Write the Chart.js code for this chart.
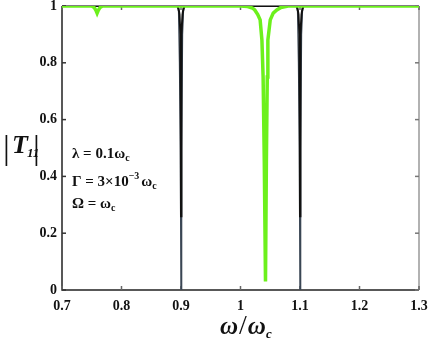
<!DOCTYPE html>
<html>
<head>
<meta charset="utf-8">
<script src="https://cdn.jsdelivr.net/npm/chart.js@4/dist/chart.umd.min.js"></script>
<style>
html, body { margin: 0; padding: 0; background: #fff; }
#wrap { width: 435px; height: 345px; }
</style>
</head>
<body>
<div id="wrap"><canvas id="myChart"></canvas></div>
<script>
// frequency axis ticks
var xTicks = [0.7, 0.8, 0.9, 1.0, 1.1, 1.2, 1.3];
var xTickLabels = ['0.7', '0.8', '0.9', '1', '1.1', '1.2', '1.3'];
var yTicks = [0, 0.2, 0.4, 0.6, 0.8, 1];
var yTickLabels = ['0', '0.2', '0.4', '0.6', '0.8', '1'];

// thick black curve
var blackW = [0.7, 0.894, 0.896, 0.8975, 0.899, 0.8996, 0.9, 0.9004, 0.901, 0.9025, 0.904, 0.906,
              1.094, 1.096, 1.0975, 1.099, 1.0996, 1.1, 1.1004, 1.101, 1.1025, 1.104, 1.106, 1.3];
var blackT = [1, 1, 0.99, 0.97, 0.9, 0.6, 0.26, 0.6, 0.9, 0.97, 0.99, 1,
              1, 0.99, 0.97, 0.9, 0.6, 0.26, 0.6, 0.9, 0.97, 0.99, 1, 1];

// thin slate curve, goes all the way down
var slateW = [0.7, 0.894, 0.896, 0.8975, 0.899, 0.9, 0.901, 0.9025, 0.904, 0.906,
              1.094, 1.096, 1.0975, 1.099, 1.1, 1.101, 1.1025, 1.104, 1.106, 1.3];
var slateT = [1, 1, 0.98, 0.8, 0.5, 0, 0.5, 0.9, 0.98, 1,
              1, 0.98, 0.8, 0.5, 0, 0.5, 0.9, 0.98, 1, 1];

// green curve
var greenW = [0.7, 0.75, 0.754, 0.757, 0.759, 0.761, 0.764, 0.768, 1.0,
              1.012, 1.02, 1.024, 1.029, 1.033, 1.036, 1.038, 1.040, 1.042, 1.0435, 1.045, 1.046, 1.050, 1.055, 1.061, 1.068, 1.08, 1.3];
var greenT = [1, 1, 0.995, 0.985, 0.975, 0.985, 0.995, 1, 1,
              0.998, 0.993, 0.986, 0.97, 0.951, 0.88, 0.75, 0.45, 0.03, 0.45, 0.75, 0.88, 0.951, 0.975, 0.986, 0.995, 1, 1];

function toPoints(xs, ys) {
    return xs.map(function(x, i) { return {x: x, y: ys[i]}; });
}

var serif = "'Liberation Serif', 'Times New Roman', serif";

// frame + inward ticks, drawn under the curves
var framePlugin = {
    id: 'frame',
    beforeDatasetsDraw: function(chart) {
        var ctx = chart.ctx, a = chart.chartArea;
        var xs = chart.scales.x, ys = chart.scales.y;
        ctx.save();
        ctx.lineWidth = 1.5;
        ctx.strokeStyle = '#555';
        ctx.beginPath(); ctx.moveTo(a.left, a.top); ctx.lineTo(a.right, a.top); ctx.stroke();
        ctx.strokeStyle = '#999';
        ctx.beginPath(); ctx.moveTo(a.right, a.top); ctx.lineTo(a.right, a.bottom); ctx.stroke();
        ctx.strokeStyle = '#222';
        ctx.beginPath(); ctx.moveTo(a.left, a.top); ctx.lineTo(a.left, a.bottom); ctx.lineTo(a.right, a.bottom); ctx.stroke();
        xTicks.forEach(function(v) {
            var px = xs.getPixelForValue(v);
            ctx.strokeStyle = '#666';
            ctx.beginPath(); ctx.moveTo(px, a.bottom); ctx.lineTo(px, a.bottom - 4); ctx.stroke();
            ctx.beginPath(); ctx.moveTo(px, a.top); ctx.lineTo(px, a.top + 4); ctx.stroke();
        });
        yTicks.forEach(function(v) {
            var py = ys.getPixelForValue(v);
            ctx.strokeStyle = '#333';
            ctx.beginPath(); ctx.moveTo(a.left, py); ctx.lineTo(a.left + 4, py); ctx.stroke();
            ctx.strokeStyle = '#777';
            ctx.beginPath(); ctx.moveTo(a.right, py); ctx.lineTo(a.right - 4, py); ctx.stroke();
        });
        ctx.restore();
    }
};

// draws a run of text pieces, each with its own font and baseline shift
function drawParts(ctx, x, y, parts) {
    parts.forEach(function(p) {
        ctx.font = p.f;
        ctx.fillText(p.t, x, y + (p.dy || 0));
        x += ctx.measureText(p.t).width + (p.gap || 0);
    });
}

var textPlugin = {
    id: 'labels',
    afterDraw: function(chart) {
        var ctx = chart.ctx;
        ctx.save();
        ctx.fillStyle = '#111';
        ctx.textBaseline = 'alphabetic';
        ctx.textAlign = 'left';
        var b15 = 'bold 15px ' + serif, b10 = 'bold 10px ' + serif;
        // annotations
        drawParts(ctx, 72, 158, [{t: '\u03bb = 0.1\u03c9', f: b15}, {t: 'c', f: b10, dy: 3}]);
        drawParts(ctx, 72, 186, [{t: '\u0393 = 3\u00d710', f: b15}, {t: '\u22123', f: b10, dy: -7, gap: 2}, {t: '\u03c9', f: b15}, {t: 'c', f: b10, dy: 3}]);
        drawParts(ctx, 72, 208, [{t: '\u03a9 = \u03c9', f: b15}, {t: 'c', f: b10, dy: 3}]);
        // y title |T11|
        ctx.font = '34px ' + serif;
        ctx.fillText('|', 3, 159);
        drawParts(ctx, 12, 153, [{t: 'T', f: 'italic bold 26px ' + serif, gap: -1}, {t: '11', f: 'italic bold 13px ' + serif, dy: 4}]);
        ctx.font = '34px ' + serif;
        ctx.fillText('|', 33, 159);
        // x title omega/omega_c
        drawParts(ctx, 220, 334, [{t: '\u03c9', f: 'italic bold 25px ' + serif, gap: 1}, {t: '/', f: '28px ' + serif, gap: 1}, {t: '\u03c9', f: 'italic bold 25px ' + serif}, {t: 'c', f: 'italic bold 13px ' + serif, dy: 4}]);
        ctx.restore();
    }
};

var chart = new Chart('myChart', {
    type: 'line',
    data: {
        datasets: [
            {
                label: 'green',
                data: toPoints(greenW, greenT),
                borderColor: '#6cf01c',
                borderWidth: 3.5,
                order: 0
            },
            {
                label: 'black',
                data: toPoints(blackW, blackT),
                borderColor: '#111',
                borderWidth: 2,
                order: 1
            },
            {
                label: 'slate',
                data: toPoints(slateW, slateT),
                borderColor: '#3a4654',
                borderWidth: 1.4,
                order: 2
            }
        ]
    },
    options: {
        responsive: true,
        maintainAspectRatio: false,
        animation: false,
        layout: { padding: { top: 6, right: 16, left: 0, bottom: 0 } },
        elements: { point: { radius: 0 }, line: { tension: 0, fill: false } },
        plugins: { legend: { display: false }, tooltip: { enabled: false } },
        scales: {
            x: {
                type: 'linear',
                min: 0.7,
                max: 1.3,
                afterBuildTicks: function(s) { s.ticks = xTicks.map(function(v) { return {value: v}; }); },
                afterFit: function(s) { s.height = 55; s.paddingLeft = 0; s.paddingRight = 0; },
                grid: { display: false, drawTicks: false },
                border: { display: false },
                ticks: {
                    padding: 8,
                    color: '#111',
                    font: { family: serif, size: 14, weight: 'bold' },
                    maxRotation: 0,
                    callback: function(v, i) { return xTickLabels[i]; }
                }
            },
            y: {
                min: 0,
                max: 1,
                afterBuildTicks: function(s) { s.ticks = yTicks.map(function(v) { return {value: v}; }); },
                afterFit: function(s) { s.width = 62; s.paddingTop = 0; s.paddingBottom = 0; },
                grid: { display: false, drawTicks: false },
                border: { display: false },
                ticks: {
                    padding: 5,
                    color: '#111',
                    font: { family: serif, size: 14, weight: 'bold' },
                    callback: function(v, i) { return yTickLabels[i]; }
                }
            }
        }
    },
    plugins: [framePlugin, textPlugin]
});
</script>
</body>
</html>
